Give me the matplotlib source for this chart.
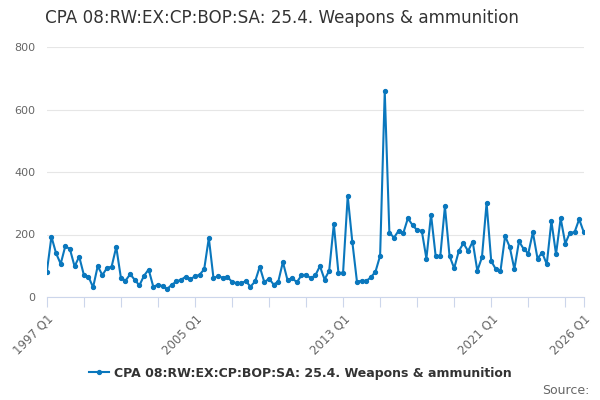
import numpy as np
import matplotlib
matplotlib.use('Agg')
import matplotlib.pyplot as plt

# quarterly series, 1997 Q1 onwards
start_year = 1997
values = [
    80, 193, 140, 106, 163, 153, 98, 129, 71, 65, 31, 99, 70, 93, 97, 160,
    62, 52, 73, 55, 37, 68, 88, 33, 39, 35, 26, 39, 50, 55, 65, 57,
    66, 71, 89, 189, 61, 66, 62, 64, 49, 44, 44, 51, 33, 50, 97, 47,
    59, 40, 49, 112, 54, 61, 47, 69, 72, 60, 69, 99, 56, 84, 233, 77,
    78, 323, 176, 49, 52, 51, 63, 81, 132, 658, 206, 190, 212, 204, 252, 230,
    214, 212, 123, 264, 131, 131, 290, 131, 92, 147, 172, 147, 177, 84, 127, 301,
    115, 89, 83, 195, 160, 89, 178, 154, 139, 207, 123, 142, 105, 243, 137, 252,
    171, 206, 207, 249, 207,
]
tick_years = list(range(1997, 2026, 2)) + [2026]
labelled = {1997: '1997 Q1', 2005: '2005 Q1', 2013: '2013 Q1', 2021: '2021 Q1', 2026: '2026 Q1'}
title = 'CPA 08:RW:EX:CP:BOP:SA: 25.4. Weapons & ammunition'

x = start_year + np.arange(len(values)) / 4

fig = plt.figure(figsize=(6, 4), dpi=100)
ax = fig.add_axes([0.078, 0.2575, 0.895, 0.625])

line_col = '#0a77bd'
ax.plot(x, values, color=line_col, lw=1.5, marker='o', ms=2.8, label=title)

ax.set_xlim(start_year, 2026)
ax.set_ylim(0, 800)
ax.set_yticks([0, 200, 400, 600, 800])
ax.grid(axis='y', color='#e6e6e6', lw=0.8)
ax.set_axisbelow(True)

ax.set_xticks(tick_years)
ax.set_xticklabels([labelled.get(y, '') for y in tick_years], rotation=45,
                   ha='right', va='top', rotation_mode='anchor')
ax.tick_params(axis='x', length=7, color='#ccd6eb', labelsize=8.5, labelcolor='#666666', pad=4)
ax.tick_params(axis='y', length=0, labelsize=8, labelcolor='#666666', pad=8)

for s in ['top', 'right', 'left']:
    ax.spines[s].set_visible(False)
ax.spines['bottom'].set_color('#ccd6eb')

fig.text(0.075, 0.955, title, fontsize=12.1, color='#333333', va='center', ha='left')

leg = fig.legend(loc='center', bbox_to_anchor=(0.5, 0.067), frameon=False,
                 prop={'weight': 'bold', 'size': 9}, handlelength=1.6, handletextpad=0.4)
for t in leg.get_texts():
    t.set_color('#333333')

fig.text(0.982, 0.025, 'Source:', fontsize=9, color='#666666', ha='right', va='center')

fig.savefig('out.png', dpi=100)
